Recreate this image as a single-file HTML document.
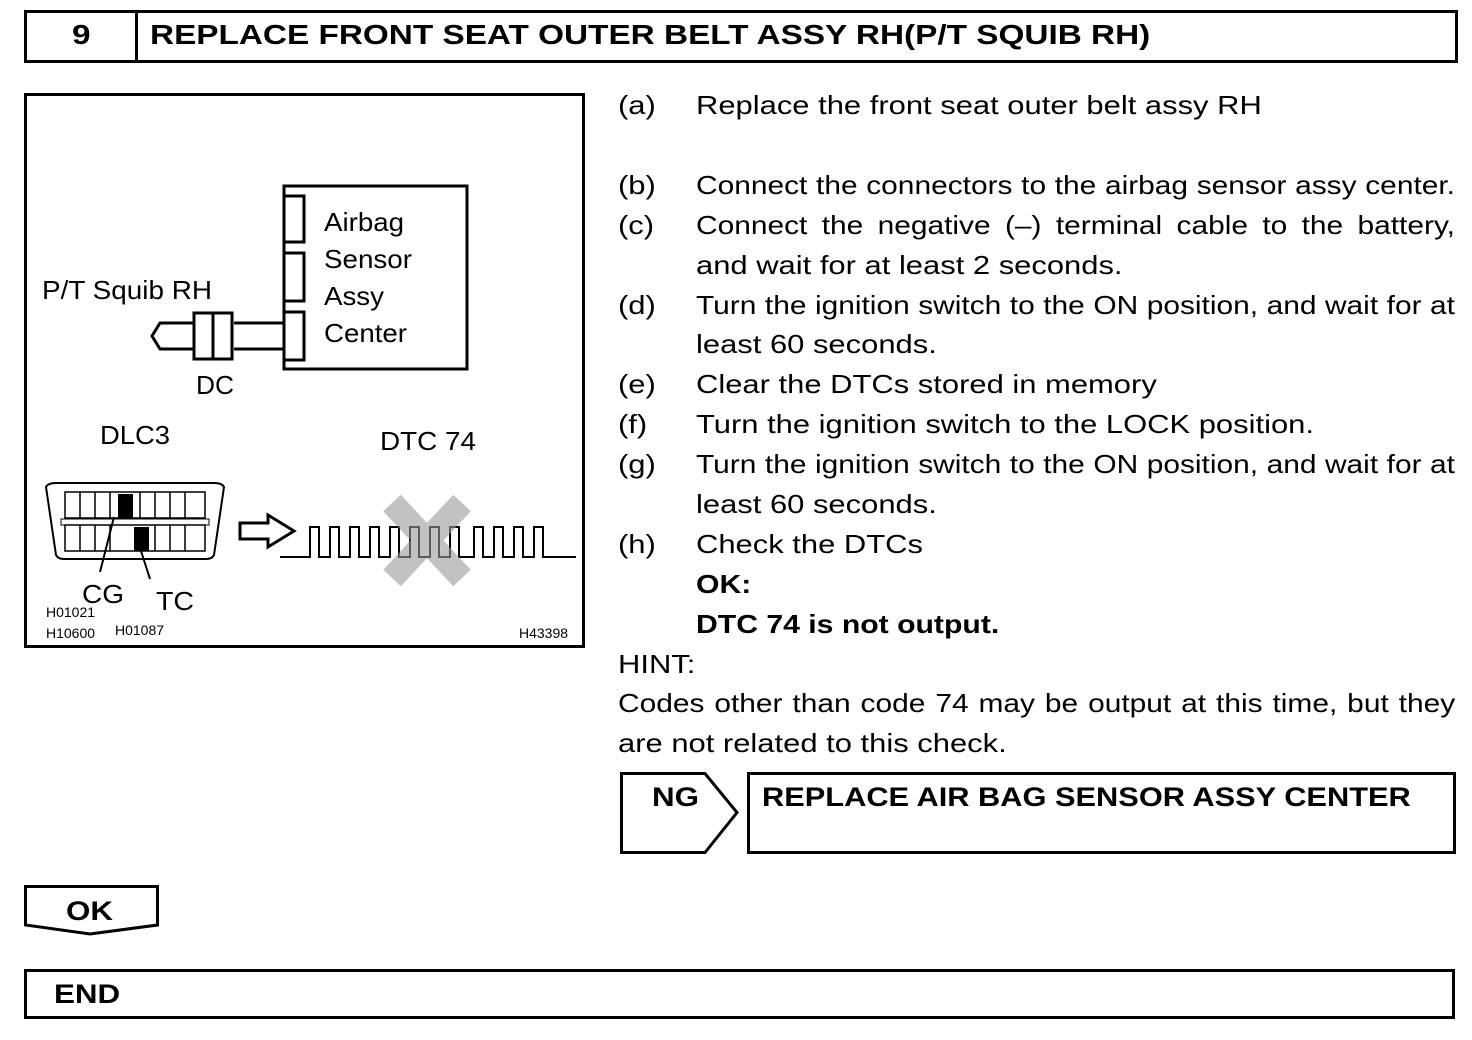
<!DOCTYPE html>
<html><head><meta charset="utf-8"><style>
body{margin:0;width:1472px;height:1040px;background:#fff;position:relative;font-family:"Liberation Sans",sans-serif;color:#000;overflow:hidden}
.a{position:absolute}
.t{position:absolute;font-size:26px;line-height:40px;white-space:nowrap;transform:scaleX(1.19);transform-origin:0 0}
.j{position:absolute;left:696px;width:660px;font-size:26px;line-height:40px;text-align:justify;text-align-last:justify;white-space:nowrap;transform:scaleX(1.15);transform-origin:0 0}
.b{font-weight:bold;transform:scaleX(1.16)}
</style></head><body>
<div class="a" style="left:24px;top:10px;width:1428px;height:47px;border:3px solid #000"></div>
<div class="a" style="left:135px;top:10px;width:3px;height:50px;background:#000"></div>
<div class="t" style="left:72px;top:15px;font-weight:bold;font-size:28px">9</div>
<div class="t" style="left:150px;top:15px;font-weight:bold;font-size:28px">REPLACE FRONT SEAT OUTER BELT ASSY RH(P/T SQUIB RH)</div>

<svg class="a" style="left:0;top:0" width="600" height="660" font-family="Liberation Sans">
<rect x="25.5" y="94.5" width="558" height="552" fill="none" stroke="#000" stroke-width="3"/>
<rect x="284" y="186" width="183" height="183" fill="none" stroke="#000" stroke-width="3"/>
<rect x="284" y="196" width="20" height="46" fill="none" stroke="#000" stroke-width="3"/>
<rect x="284" y="253" width="20" height="48" fill="none" stroke="#000" stroke-width="3"/>
<rect x="284" y="312" width="20" height="48" fill="none" stroke="#000" stroke-width="3"/>
<path d="M284 323H234M284 349H234" stroke="#000" stroke-width="3"/>
<rect x="194" y="313" width="38" height="46" fill="none" stroke="#000" stroke-width="3"/>
<path d="M213 313V359" stroke="#000" stroke-width="3"/>
<path d="M194 323H160L152 336L160 349H194" fill="none" stroke="#000" stroke-width="3"/>
<g font-size="26">
<text x="324" y="231" textLength="80" lengthAdjust="spacingAndGlyphs">Airbag</text>
<text x="324" y="268" textLength="88" lengthAdjust="spacingAndGlyphs">Sensor</text>
<text x="324" y="305" textLength="60" lengthAdjust="spacingAndGlyphs">Assy</text>
<text x="324" y="342" textLength="83" lengthAdjust="spacingAndGlyphs">Center</text>
<text x="42" y="299" textLength="170" lengthAdjust="spacingAndGlyphs">P/T Squib RH</text>
<text x="196" y="394" textLength="38" lengthAdjust="spacingAndGlyphs">DC</text>
<text x="100" y="444" textLength="70" lengthAdjust="spacingAndGlyphs">DLC3</text>
<text x="380" y="450" textLength="96" lengthAdjust="spacingAndGlyphs">DTC 74</text>
<text x="82" y="603" textLength="42" lengthAdjust="spacingAndGlyphs">CG</text>
<text x="156" y="610" textLength="38" lengthAdjust="spacingAndGlyphs">TC</text>
</g>
<path d="M46 487Q48 483 56 483H214Q222 483 224 487L214 555Q212 559 206 559H64Q58 559 56 555Z" fill="none" stroke="#000" stroke-width="2"/>
<rect x="65" y="492" width="140" height="26" fill="none" stroke="#000" stroke-width="1.5"/>
<rect x="65" y="525" width="140" height="26" fill="none" stroke="#000" stroke-width="1.5"/>
<path d="M80 492V518M95 492V518M110 492V518M140 492V518M155 492V518M170 492V518M185 492V518M80 525V551M95 525V551M110 525V551M155 525V551M170 525V551M185 525V551" stroke="#000" stroke-width="1.5"/>
<rect x="61" y="519" width="148" height="6" fill="none" stroke="#000" stroke-width="1"/>
<rect x="118" y="494" width="15" height="24" fill="#000"/>
<rect x="134" y="527" width="15" height="24" fill="#000"/>
<path d="M114 517L100 572M141 551L150 579" stroke="#000" stroke-width="2"/>
<text x="46" y="617" font-size="14">H01021</text>
<text x="46" y="638" font-size="14">H10600</text>
<text x="115" y="635" font-size="14">H01087</text>
<text x="519" y="638" font-size="14">H43398</text>
<path d="M240 523H268V515L294 531L268 547V539H240Z" fill="none" stroke="#000" stroke-width="3"/>
<path d="M280 557H310V527H319V557H330V527H339V557H350V527H359V557H370V527H379V557H390V527H399V557H410V527H419V557H430V527H439V557H450V527H459V557H474V527H483V557H494V527H503V557H514V527H523V557H534V527H543V557H576" fill="none" stroke="#000" stroke-width="2"/>
<path d="M392 503L462 578M462 503L392 578" stroke="#999" stroke-width="24" stroke-opacity="0.6"/>
</svg>

<div class="t" style="left:618px;top:85px">(a)</div><div class="t" style="left:696px;top:85px">Replace the front seat outer belt assy RH</div>
<div class="t" style="left:618px;top:165px">(b)</div><div class="j" style="top:165px">Connect the connectors to the airbag sensor assy center.</div>
<div class="t" style="left:618px;top:205px">(c)</div><div class="j" style="top:205px">Connect the negative (–) terminal cable to the battery,</div>
<div class="t" style="left:696px;top:245px">and wait for at least 2 seconds.</div>
<div class="t" style="left:618px;top:285px">(d)</div><div class="j" style="top:285px">Turn the ignition switch to the ON position, and wait for at</div>
<div class="t" style="left:696px;top:324px">least 60 seconds.</div>
<div class="t" style="left:618px;top:364px">(e)</div><div class="t" style="left:696px;top:364px">Clear the DTCs stored in memory</div>
<div class="t" style="left:618px;top:404px">(f)</div><div class="t" style="left:696px;top:404px">Turn the ignition switch to the LOCK position.</div>
<div class="t" style="left:618px;top:444px">(g)</div><div class="j" style="top:444px">Turn the ignition switch to the ON position, and wait for at</div>
<div class="t" style="left:696px;top:484px">least 60 seconds.</div>
<div class="t" style="left:618px;top:524px">(h)</div><div class="t" style="left:696px;top:524px">Check the DTCs</div>
<div class="t b" style="left:696px;top:564px">OK:</div>
<div class="t b" style="left:696px;top:604px">DTC 74 is not output.</div>
<div class="t" style="left:618px;top:644px">HINT:</div>
<div class="j" style="left:618px;top:683px;width:728px">Codes other than code 74 may be output at this time, but they</div>
<div class="t" style="left:618px;top:723px">are not related to this check.</div>

<svg class="a" style="left:0;top:760px" width="1472" height="280">
<path d="M621.5 13.5H705L737 52.5L705 92.5H621.5Z" fill="none" stroke="#000" stroke-width="3"/>
<rect x="748.5" y="13.5" width="706" height="79" fill="none" stroke="#000" stroke-width="3"/>
<path d="M25.5 126.5H157.5V165L90 174L25.5 165Z" fill="none" stroke="#000" stroke-width="3"/>
<rect x="25.5" y="210.5" width="1428" height="47" fill="none" stroke="#000" stroke-width="3"/>
</svg>
<div class="t b" style="left:652px;top:777px;font-size:27px">NG</div>
<div class="t b" style="left:762px;top:777px;font-size:27px;transform:scaleX(1.14)">REPLACE AIR BAG SENSOR ASSY CENTER</div>
<div class="t b" style="left:66px;top:891px;font-size:27px">OK</div>
<div class="t b" style="left:54px;top:974px;font-size:27px">END</div>
</body></html>
